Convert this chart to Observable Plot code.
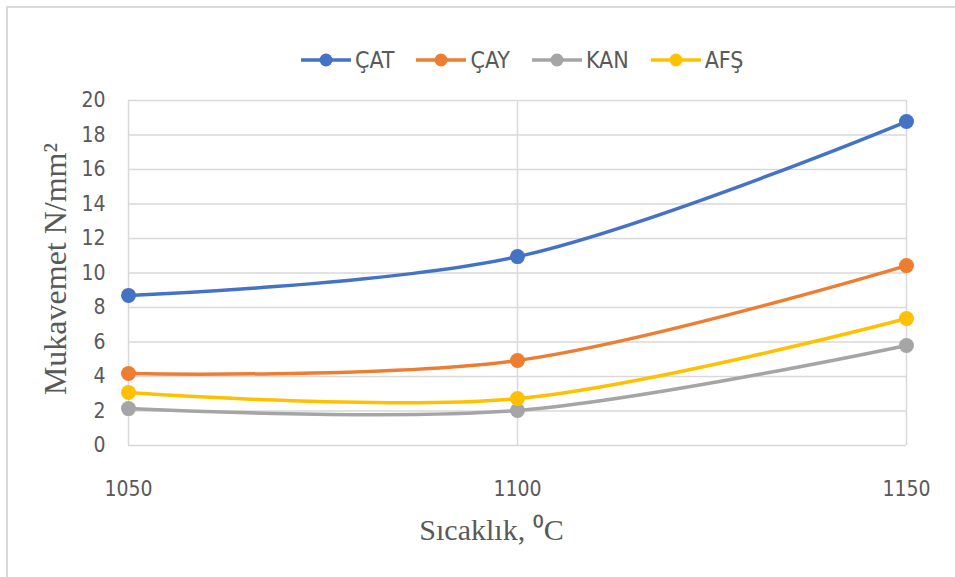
<!DOCTYPE html>
<html>
<head>
<meta charset="utf-8">
<script src="https://cdn.jsdelivr.net/npm/d3@7"></script>
<script src="https://cdn.jsdelivr.net/npm/@observablehq/plot@0.6"></script>
<style>
  body { margin: 0; background: #fff; }
  #wrap { position: relative; width: 955px; height: 577px; overflow: hidden; background: #fff; }
  #frame { position: absolute; left: 6px; top: 6px; width: 1000px; height: 1000px; border-top: 2px solid #d9d9d9; border-left: 2px solid #d9d9d9; pointer-events: none; }
  #legend { position: absolute; left: 300px; top: 44px; height: 32px; display: flex; align-items: center; font-family: "Liberation Sans Narrow", "DejaVu Sans Condensed", sans-serif; font-size: 23px; color: #595959; }
  .item { display: flex; align-items: center; margin-right: 21px; }
  .item svg { margin-right: 3px; }
  #chart { position: absolute; left: 0; top: 88px; }
</style>
</head>
<body>
<div id="wrap">
  <div id="legend"></div>
  <div id="chart"></div>
  <div id="frame"></div>
</div>
<script>
const temps = [1050, 1100, 1150];
const seriesNames = ["ÇAT", "ÇAY", "KAN", "AFŞ"];
const seriesColors = ["#4472C4", "#ED7D31", "#A5A5A5", "#FFC000"];
const cat = [8.7, 10.95, 18.78];
const cay = [4.17, 4.93, 10.43];
const kan = [2.14, 2.03, 5.8];
const afs = [3.07, 2.72, 7.36];
const yTicks = [0, 2, 4, 6, 8, 10, 12, 14, 16, 18, 20];
const xTitle = "Sıcaklık, \u2070C";
const yTitle = "Mukavemet N/mm\u00B2";

const values = [cat, cay, kan, afs];
const data = [];
seriesNames.forEach((s, i) => temps.forEach((t, j) => data.push({series: s, temp: t, value: values[i][j]})));

// legend
const legend = document.getElementById("legend");
seriesNames.forEach((s, i) => {
  const d = document.createElement("div");
  d.className = "item";
  d.innerHTML = `<svg width="52" height="16"><line x1="1" x2="51" y1="8" y2="8" stroke="${seriesColors[i]}" stroke-width="3.5"/><circle cx="26" cy="8" r="6.5" fill="${seriesColors[i]}"/></svg><span>${s}</span>`;
  legend.appendChild(d);
});

const tickFont = "'Liberation Sans Narrow', 'DejaVu Sans Condensed', sans-serif";
const serif = "'Liberation Serif', 'Times New Roman', serif";

const chart = Plot.plot({
  width: 955,
  height: 489,
  marginLeft: 128,
  marginRight: 49,
  marginTop: 12,
  marginBottom: 132,
  style: {fontFamily: tickFont, color: "#595959", background: "transparent"},
  x: {type: "linear", domain: [1050, 1150]},
  y: {domain: [0, 20]},
  color: {domain: seriesNames, range: seriesColors},
  marks: [
    Plot.gridY(yTicks, {stroke: "#d9d9d9", strokeOpacity: 1, strokeWidth: 1.5}),
    Plot.gridX(temps, {stroke: "#d9d9d9", strokeOpacity: 1, strokeWidth: 1.5}),
    Plot.axisY(yTicks, {tickSize: 0, tickPadding: 23, fontSize: 21, fill: "#595959", label: null}),
    Plot.axisX(temps, {tickSize: 0, tickPadding: 36, fontSize: 21, fill: "#595959", label: null, tickFormat: d => String(d)}),
    Plot.lineY(data, {x: "temp", y: "value", z: "series", stroke: "series", strokeWidth: 3.5, curve: "catmull-rom"}),
    Plot.dot(data, {x: "temp", y: "value", fill: "series", r: 7.5}),
    Plot.text([yTitle], {frameAnchor: "left", dx: -73, dy: -4, rotate: -90, textAnchor: "middle", lineAnchor: "middle", fontSize: 32, fontFamily: serif, fill: "#595959"}),
    Plot.text([xTitle], {frameAnchor: "bottom", dx: -26, dy: 85, textAnchor: "middle", lineAnchor: "middle", fontSize: 30, fontFamily: serif, fill: "#595959"})
  ]
});
document.getElementById("chart").appendChild(chart);
</script>
</body>
</html>
